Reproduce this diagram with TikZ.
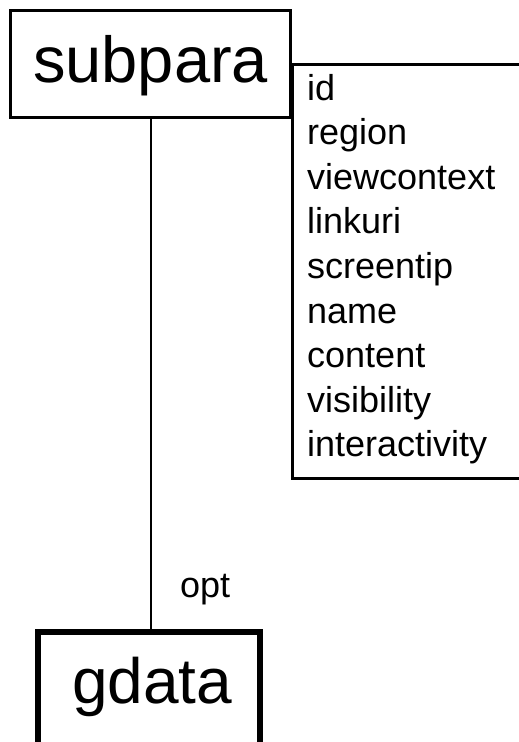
\documentclass[tikz,border=0pt]{standalone}
\usepackage{fontspec}
\setmainfont{Liberation Sans}
\begin{document}
\begin{tikzpicture}[x=1pt,y=-1pt,
  bigbox/.style={draw,line width=3pt,inner sep=0pt,minimum width=280pt,minimum height=107pt},
  attr/.style={anchor=base west,inner sep=0pt,font=\fontsize{36}{44}\selectfont},
  lbl/.style={anchor=base west,inner sep=0pt,font=\fontsize{36}{44}\selectfont}]
\useasboundingbox (0,0) rectangle (519,742);
\clip (0,0) rectangle (519,742);
\node[bigbox] (subpara) at (150,63.5) {};
\node[anchor=base west,inner sep=0pt,font=\fontsize{65}{78}\selectfont] (subparat) at (33,82) {subpara};
\node[draw,line width=6pt,inner sep=0pt,minimum width=222pt,minimum height=118pt] (gdata) at (149,691) {};
\node[anchor=base west,inner sep=0pt,font=\fontsize{64}{76}\selectfont] (gdatat) at (72,703) {gdata};
\coordinate (atl) at (292,64);
\coordinate (atr) at (530,64);
\coordinate (abl) at (292,478);
\coordinate (abr) at (530,478);
\draw[line width=3pt] (atr) -- (atl) -- (abl) -- (abr);
\foreach \t [count=\i] in {id,region,viewcontext,linkuri,screentip,name,content,visibility,interactivity}
  \node[attr] (a\i) at (307,{100+44.6*(\i-1)}) {\t};
\coordinate (top) at (151,117);
\coordinate (bot) at (151,632);
\draw[line width=2pt] (top) -- (bot);
\node[lbl] (opt) at (180,597) {opt};
\end{tikzpicture}
\end{document}
